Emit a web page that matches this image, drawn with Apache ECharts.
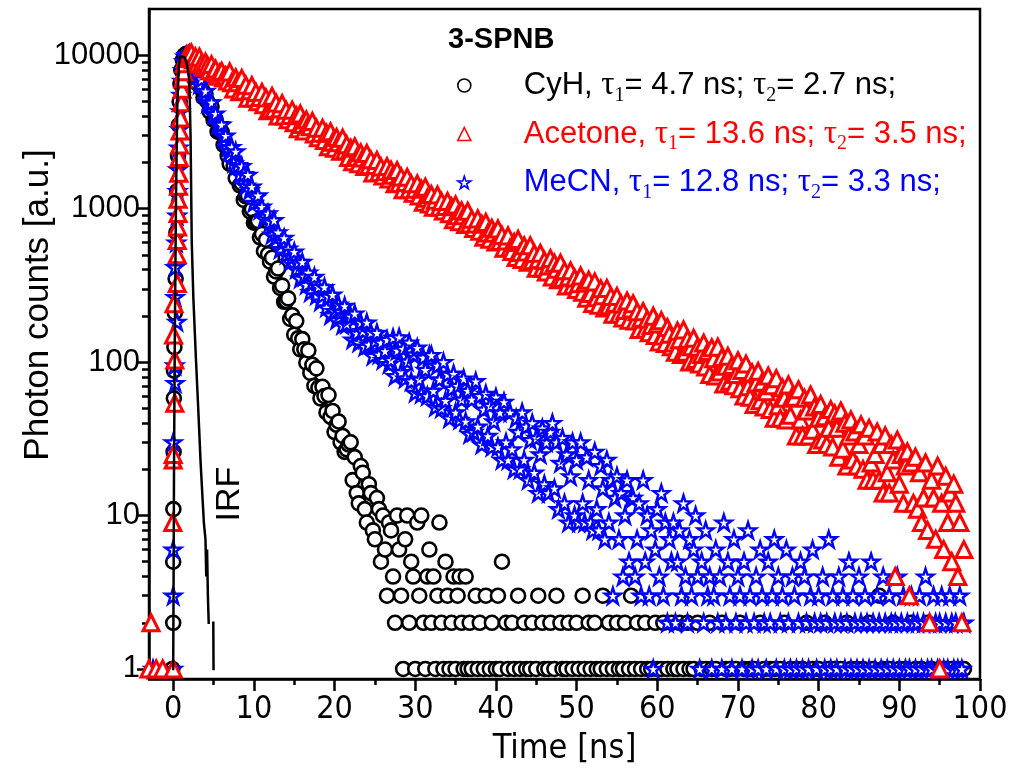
<!DOCTYPE html>
<html>
<head>
<meta charset="utf-8">
<title>3-SPNB decay</title>
<script src="https://cdn.jsdelivr.net/npm/echarts@6/dist/echarts.min.js"></script>
<style>html,body{margin:0;padding:0;background:#fff;}</style>
</head>
<body>
<div id="main" style="width:1019px;height:773px;"></div>
<script type="text/javascript">
// time channels of the decay part (ns)
var t = [
 2,2.25,2.5,2.75,3,3.25,3.5,3.75,4,4.25,4.5,4.75,5,5.25,5.5,5.75,6,6.25,6.5,6.75,
 7,7.25,7.5,7.75,8,8.25,8.5,8.75,9,9.25,9.5,9.75,10,10.25,10.5,10.75,11,11.25,11.5,11.75,
 12,12.25,12.5,12.75,13,13.25,13.5,13.75,14,14.25,14.5,14.75,15,15.25,15.5,15.75,16,16.25,16.5,16.75,
 17,17.25,17.5,17.75,18,18.25,18.5,18.75,19,19.25,19.5,19.75,20,20.25,20.5,20.75,21,21.25,21.5,21.75,
 22,22.25,22.5,22.75,23,23.25,23.5,23.75,24,24.25,24.5,24.75,25,25.25,25.5,25.75,26,26.25,26.5,26.75,
 27,27.25,27.5,27.75,28,28.25,28.5,28.75,29,29.25,29.5,29.75,30,30.25,30.5,30.75,31,31.25,31.5,31.75,
 32,32.25,32.5,32.75,33,33.25,33.5,33.75,34,34.25,34.5,34.75,35,35.25,35.5,35.75,36,36.25,36.5,36.75,
 37,37.25,37.5,37.75,38,38.25,38.5,38.75,39,39.25,39.5,39.75,40,40.25,40.5,40.75,41,41.25,41.5,41.75,
 42,42.25,42.5,42.75,43,43.25,43.5,43.75,44,44.25,44.5,44.75,45,45.25,45.5,45.75,46,46.25,46.5,46.75,
 47,47.25,47.5,47.75,48,48.25,48.5,48.75,49,49.25,49.5,49.75,50,50.25,50.5,50.75,51,51.25,51.5,51.75,
 52,52.25,52.5,52.75,53,53.25,53.5,53.75,54,54.25,54.5,54.75,55,55.25,55.5,55.75,56,56.25,56.5,56.75,
 57,57.25,57.5,57.75,58,58.25,58.5,58.75,59,59.25,59.5,59.75,60,60.25,60.5,60.75,61,61.25,61.5,61.75,
 62,62.25,62.5,62.75,63,63.25,63.5,63.75,64,64.25,64.5,64.75,65,65.25,65.5,65.75,66,66.25,66.5,66.75,
 67,67.25,67.5,67.75,68,68.25,68.5,68.75,69,69.25,69.5,69.75,70,70.25,70.5,70.75,71,71.25,71.5,71.75,
 72,72.25,72.5,72.75,73,73.25,73.5,73.75,74,74.25,74.5,74.75,75,75.25,75.5,75.75,76,76.25,76.5,76.75,
 77,77.25,77.5,77.75,78,78.25,78.5,78.75,79,79.25,79.5,79.75,80,80.25,80.5,80.75,81,81.25,81.5,81.75,
 82,82.25,82.5,82.75,83,83.25,83.5,83.75,84,84.25,84.5,84.75,85,85.25,85.5,85.75,86,86.25,86.5,86.75,
 87,87.25,87.5,87.75,88,88.25,88.5,88.75,89,89.25,89.5,89.75,90,90.25,90.5,90.75,91,91.25,91.5,91.75,
 92,92.25,92.5,92.75,93,93.25,93.5,93.75,94,94.25,94.5,94.75,95,95.25,95.5,95.75,96,96.25,96.5,96.75,
 97,97.25,97.5,97.75,98
];

// photon counts, CyH
var cyh = [
 9600,9520,7890,7930,6530,7130,6030,5300,5570,4980,4310,4630,3790,3820,3170,3170,3160,2600,2620,2210,
 1960,2180,1910,1580,1820,1420,1460,1140,1200,1220,960,990,810,815,830,650,683,528,627,504,
 451,478,361,390,407,304,315,247,250,260,191,202,151,185,143,121,141,121,99,119,
 85,96,70,91,68,58,69,60,47,61,44,48,35,39,41,30,33,26,27,29,
 30,17,24,14,12,21,19,11,9,16,14,8,7,13,11,5,10,6,3,9,
 8,4,2,10,6,3,1,7,10,2,5,4,1,9,3,10,2,1,4,6,
 2,4,1,3,9,2,1,5,3,1,2,4,1,3,4,2,1,4,1,2,
 1,0,3,1,2,0,1,3,0,1,2,0,1,3,1,5,0,2,1,0,
 2,1,0,3,1,0,2,1,0,1,2,0,1,3,0,2,1,0,1,2,
 0,1,3,0,2,1,0,1,2,0,1,0,2,1,0,3,1,0,2,1,
 0,2,1,0,1,3,0,1,2,0,1,0,2,1,0,1,2,0,1,3,
 0,1,2,0,1,0,2,1,0,1,0,2,1,0,1,2,0,1,0,2,
 1,0,1,2,0,1,0,2,1,0,1,0,2,0,1,0,1,0,2,1,
 0,1,0,0,2,0,1,0,1,0,0,1,0,2,0,1,0,0,1,0,
 1,0,0,2,0,1,0,0,1,0,1,0,0,1,0,2,0,0,1,0,
 0,1,0,0,1,0,2,0,0,1,0,0,1,0,0,2,0,1,0,0,
 1,0,0,1,0,0,2,0,1,0,0,1,0,0,1,0,0,2,0,1,
 0,0,3,0,1,0,0,1,0,2,0,0,1,0,0,1,0,0,2,0,
 1,0,0,1,0,0,2,0,1,0,0,0,1,0,0,1,0,0,1,0,
 0,1,0,0,1
];

// photon counts, acetone
var acetone = [
 10000,10340,9310,9740,8740,9700,8820,8360,9000,8560,7930,8690,7800,8120,7300,7640,7860,7110,7340,6780,
 7780,6620,6030,7130,6610,5780,7060,5820,6380,5250,5860,6330,5260,5720,4970,5300,5730,4760,5270,4350,
 4410,5390,4450,4880,4010,4480,4830,4020,4370,3800,4050,4380,3630,4030,3320,4140,3530,3210,3790,3520,
 3420,3700,3070,3340,2900,3100,3340,2780,3090,2530,3170,2710,2470,2910,2690,2370,2880,2380,2610,2150,
 2470,2020,2530,2150,1960,2310,2140,1880,2290,1900,2080,1710,1910,2060,1720,1870,1630,1740,1880,1560,
 1780,1650,1450,1770,1460,1610,1330,1480,1600,1330,1450,1260,1340,1450,1210,1340,1100,1380,1170,1070,
 1235,1020,1136,1227,1021,1111,966,1032,1114,926,1028,847,1057,900,821,968,898,787,961,793,
 854,742,793,857,711,790,650,813,693,631,744,691,605,738,610,669,552,615,664,553,
 526,602,480,630,517,466,573,522,448,573,457,510,408,466,512,409,459,387,422,473,
 359,441,402,344,441,351,393,313,358,393,315,353,297,324,364,285,326,261,342,280,
 241,333,263,235,300,271,225,302,233,268,205,242,268,206,239,194,217,250,187,222,
 240,185,213,163,193,213,164,190,155,173,199,149,177,135,186,148,132,168,152,126,
 133,116,159,140,112,162,116,141,100,126,143,104,125,97,112,133,93,117,83,124,
 105,81,125,86,107,72,94,109,75,95,70,83,102,67,88,60,97,69,59,85,
 53,73,87,56,74,51,64,81,49,70,43,78,52,43,68,58,42,71,45,60,
 59,33,66,42,33,58,48,33,61,36,51,29,43,53,31,44,29,37,49,28,
 46,37,24,48,27,40,21,33,42,23,35,21,29,39,20,33,17,37,22,17,
 25,35,17,29,14,33,19,14,29,23,4,31,16,25,12,21,26,3,22,12,
 24,11,19,9,13,22,8,2,17,13,7,21,1,12,6,18,9,14,5,16,
 12,4,9,2,6
];

// photon counts, MeCN
var mecn = [
 10150,8670,7720,8190,7370,6440,6980,5760,5820,4880,4900,4920,4090,4160,3550,3540,3530,2950,2990,2500,
 2370,2520,1980,2360,1920,1670,1890,1680,1410,1660,1320,1390,1090,1180,1220,982,1030,865,890,930,
 816,676,841,649,701,544,604,644,501,548,450,480,524,402,449,350,449,361,319,383,
 285,329,359,272,310,248,272,308,227,267,202,275,215,188,237,212,174,232,177,202,
 198,140,207,154,134,181,159,126,181,130,156,110,137,155,112,134,103,118,140,97,
 103,144,81,119,145,86,122,78,101,134,75,112,63,124,77,62,107,89,60,111,
 111,65,51,95,77,50,100,56,83,43,67,84,47,70,42,57,78,41,65,34,
 57,35,75,38,60,29,49,62,33,52,28,41,59,28,47,23,55,30,23,47,
 27,20,43,35,20,47,23,38,17,31,40,19,32,14,25,37,16,30,14,35,
 40,15,30,11,22,32,12,25,9,18,30,10,23,9,30,12,9,24,17,9,
 8,26,11,8,21,15,7,23,9,17,3,13,18,7,14,4,10,17,5,13,
 13,4,7,12,3,17,5,10,3,8,1,6,11,4,14,3,9,2,7,5,
 9,2,5,8,3,12,4,2,7,3,6,10,4,1,5,2,8,3,4,1,
 3,6,2,4,1,9,2,5,3,1,7,2,4,3,1,5,2,8,3,1,
 2,4,1,6,3,2,1,5,2,3,7,1,4,2,3,1,6,2,1,4,
 3,1,2,5,1,4,2,1,3,6,2,1,3,2,4,1,2,7,1,3,
 2,1,4,2,3,1,2,5,1,3,2,1,4,2,1,3,2,1,5,2,
 1,3,2,1,4,2,1,3,2,1,2,4,1,2,3,1,2,1,3,2,
 1,2,3,1,2,4,1,2,1,3,2,1,2,3,1,2,1,3,2,1,
 2,1,3,1,2
];

// rising edge and early channels, [time, counts]
var cyhRise = [[-0.1,1],[0,2],[0,5],[0.02,11],[0.05,26],[0.08,58],[0.1,88],[0.15,125],[0.2,210],[0.3,350],
 [0.4,700],[0.5,1300],[0.6,2200],[0.7,3500],[0.8,5000],[0.9,6500],[1.0,8000],[1.2,9300],[1.4,10000],[1.6,10200],[1.8,9900]];
var acetoneRise = [[-3,1],[-2.75,2],[-2.1,1],[-1.3,1],[0,1],[-0.05,9],[0,23],[0,25],[0.2,54],[0.2,103],
 [0.05,150],[0.1,240],[0.5,325],[0.5,500],[0.5,620],[0.55,760],[0.6,930],[0.6,1150],[0.65,1400],[0.7,1700],
 [0.75,2150],[0.8,2600],[0.85,3200],[0.9,3900],[1.0,4900],[1.1,6000],[1.2,7000],[1.3,7800],[1.4,8800],[1.5,9500],[1.7,10000],[1.9,10100]];
var mecnRise = [[-2.5,1],[0,1],[0,3],[0,6],[0,30],[0.25,73],[0.2,95],[0.45,183],[0.25,265],[0.25,415],
 [0.4,600],[0.5,900],[0.55,1300],[0.6,1800],[0.7,2500],[0.8,3300],[0.9,4300],[1.0,5500],[1.1,6800],[1.2,8000],
 [1.35,9100],[1.5,9800],[1.7,10000],[1.9,9700]];

// instrument response, 0 = no counts (gap in the line)
var irf = [[0,1],[0.05,4],[0.1,20],[0.2,150],[0.35,1200],[0.5,4500],[0.7,8500],[0.9,9800],[1.1,10000],[1.4,9700],
 [1.7,8800],[2.0,6800],[2.15,3000],[2.3,600],[2.5,260],[2.8,110],[3.1,50],[3.4,22],[3.6,14],
 [3.8,9],[4.0,7],[4.1,4],[4.2,6],[4.3,3],[4.4,2],[4.5,0],[4.97,2],[5.0,1],[5.05,0],
 [10.3,1],[10.35,1],[10.4,0],[10.7,1],[10.75,1],[10.8,0],[14.6,1],[14.65,1],[14.7,0],[15.2,1],[15.25,1]];

var xTicks = [0,10,20,30,40,50,60,70,80,90,100];
var xMinor = [5,15,25,35,45,55,65,75,85,95];
var yTicks = [1,10,100,1000,10000];
var yMinor = [2,3,4,5,6,7,8,9,20,30,40,50,60,70,80,90,200,300,400,500,600,700,800,900,
 2000,3000,4000,5000,6000,7000,8000,9000];

var sans = "'Liberation Sans', Arial, sans-serif";
var narrow = "'Liberation Sans Narrow', 'Arial Narrow', 'DejaVu Sans Condensed', sans-serif";
var serif = "'Liberation Serif', 'Times New Roman', serif";
var star = 'path://M50,2 L61,36 L97,36 L68,57 L79,92 L50,71 L21,92 L32,57 L3,36 L39,36 Z';

function pairs(times, counts) {
    var out = [];
    for (var i = 0; i < times.length; i++) {
        if (counts[i] > 0) out.push([times[i], counts[i]]);
    }
    return out;
}

var legendText = {
    'CyH': ['k', 'CyH, ', '4.7', '2.7'],
    'Acetone': ['r', 'Acetone, ', '13.6', '3.5'],
    'MeCN': ['b', 'MeCN, ', '12.8', '3.3']
};
var rich = {sp: {width: 48}};
[['k', '#000'], ['r', '#ff0000'], ['b', '#0000ff']].forEach(function (c) {
    rich['n' + c[0]] = {color: c[1], fontFamily: sans, fontSize: 31, lineHeight: 40, verticalAlign: 'middle'};
    rich['t' + c[0]] = {color: c[1], fontFamily: serif, fontSize: 33, lineHeight: 40, verticalAlign: 'middle'};
    rich['s' + c[0]] = {color: c[1], fontFamily: serif, fontSize: 20, lineHeight: 20, verticalAlign: 'bottom'};
});

var myChart = echarts.init(document.getElementById('main'));

var axisLineStyle = {color: '#000', width: 2.5};

var option = {
    backgroundColor: '#fff',
    animation: false,
    title: {
        text: '3-SPNB',
        left: 443, top: 20,
        textStyle: {fontFamily: sans, fontWeight: 'bold', fontSize: 29, color: '#000'}
    },
    legend: {
        orient: 'vertical',
        left: 452, top: 64,
        itemWidth: 13, itemHeight: 13, itemGap: 12,
        itemStyle: {borderWidth: 1.6},
        selectedMode: false,
        data: ['CyH', 'Acetone', 'MeCN'],
        formatter: function (name) {
            var d = legendText[name], k = d[0];
            return '{sp|}{n' + k + '|' + d[1] + '}{t' + k + '|τ}{s' + k + '|1}{n' + k + '|= ' + d[2] +
                ' ns; }{t' + k + '|τ}{s' + k + '|2}{n' + k + '|= ' + d[3] + ' ns;}';
        },
        textStyle: {rich: rich}
    },
    grid: {
        left: 149, right: 39, top: 9, bottom: 94,
        show: true, borderColor: '#000', borderWidth: 2.5,
        outerBoundsMode: 'none'
    },
    xAxis: [{
        type: 'value', min: -3, max: 100, position: 'bottom',
        name: 'Time [ns]', nameLocation: 'middle', nameGap: 53,
        nameTextStyle: {fontFamily: narrow, fontSize: 34, color: '#000'},
        axisLine: {onZero: false, lineStyle: axisLineStyle},
        axisTick: {customValues: xTicks, length: 12, lineStyle: axisLineStyle},
        axisLabel: {customValues: xTicks, margin: 15, fontFamily: narrow, fontSize: 32, color: '#000'},
        splitLine: {show: false}
    }, {
        type: 'value', min: -3, max: 100, position: 'bottom',
        axisLine: {show: false, onZero: false},
        axisTick: {customValues: xMinor, length: 6, lineStyle: axisLineStyle},
        axisLabel: {show: false},
        splitLine: {show: false}
    }],
    yAxis: [{
        type: 'log', logBase: 10, min: 0.86, max: 20000, position: 'left',
        axisLine: {onZero: false, lineStyle: axisLineStyle},
        axisTick: {customValues: yTicks, length: 12, lineStyle: axisLineStyle},
        axisLabel: {
            customValues: yTicks, margin: 9, fontFamily: sans, fontSize: 31, color: '#000',
            formatter: function (v) { return String(Math.round(v)); }
        },
        splitLine: {show: false}
    }, {
        type: 'log', logBase: 10, min: 0.86, max: 20000, position: 'left',
        axisLine: {show: false, onZero: false},
        axisTick: {customValues: yMinor, length: 7, lineStyle: axisLineStyle},
        axisLabel: {show: false},
        splitLine: {show: false}
    }],
    graphic: [{
        type: 'text', x: 38, y: 305, rotation: Math.PI / 2,
        style: {text: 'Photon counts [a.u.]', font: '35px ' + sans, fill: '#000', align: 'center', verticalAlign: 'middle'}
    }, {
        type: 'text', x: 230, y: 494, rotation: Math.PI / 2,
        style: {text: 'IRF', font: '34px ' + sans, fill: '#000', align: 'center', verticalAlign: 'middle'}
    }],
    series: [{
        name: 'IRF', type: 'line', symbol: 'none',
        data: irf.map(function (p) { return [p[0], p[1] > 0 ? p[1] : '-']; }),
        connectNulls: false,
        lineStyle: {color: '#000', width: 2.5, cap: 'square'},
        emphasis: {disabled: true}
    }, {
        name: 'CyH', type: 'scatter', symbol: 'circle', symbolSize: 14,
        data: cyhRise.concat(pairs(t, cyh)),
        itemStyle: {color: '#fff', borderColor: '#000', borderWidth: 2.6, opacity: 1},
        emphasis: {disabled: true}
    }, {
        name: 'MeCN', type: 'scatter', symbol: star, symbolSize: 16,
        data: mecnRise.concat(pairs(t, mecn)),
        itemStyle: {color: '#fff', borderColor: '#0000ff', borderWidth: 2.4, opacity: 1},
        emphasis: {disabled: true}
    }, {
        name: 'Acetone', type: 'scatter', symbol: 'triangle', symbolSize: 16,
        data: acetoneRise.concat(pairs(t, acetone)),
        itemStyle: {color: '#fff', borderColor: '#ff0000', borderWidth: 3, opacity: 1},
        emphasis: {disabled: true}
    }]
};

myChart.setOption(option);
</script>
</body>
</html>
